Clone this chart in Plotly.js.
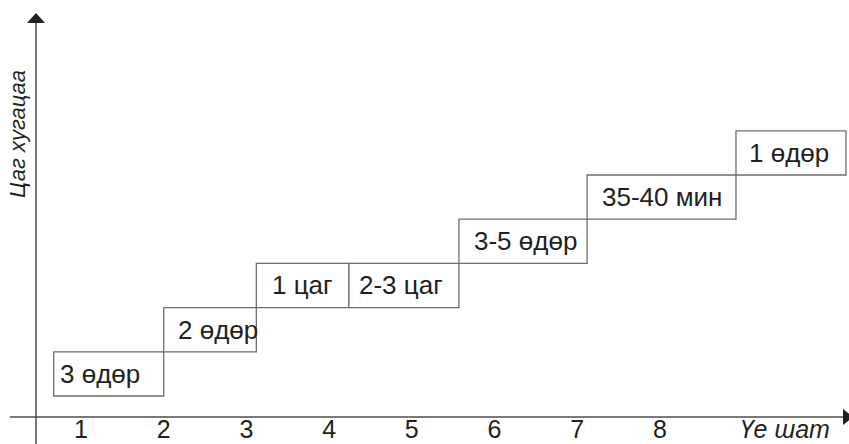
<!DOCTYPE html>
<html>
<head>
<meta charset="utf-8">
<script src="https://cdn.plot.ly/plotly-3.0.1.min.js"></script>
<style>html,body{margin:0;padding:0;background:#fff;}#chart{width:849px;height:444px;}</style>
</head>
<body>
<div id="chart"></div>
<script>
// ---- data ----
var stageTicks = [1, 2, 3, 4, 5, 6, 7, 8];
var stageTickText = ["1", "2", "3", "4", "5", "6", "7", "8"];
var stepLabels = ["3 өдөр", "2 өдөр", "1 цаг", "2-3 цаг", "3-5 өдөр", "35-40 мин", "1 өдөр"];
var stepStart = [0.67, 2.0, 3.12, 4.24, 5.57, 7.12, 8.92];
var stepEnd   = [2.0, 3.12, 4.24, 5.57, 7.12, 8.92, 10.25];
var stepLevel = [0, 1, 2, 2, 3, 4, 5];
var xAxisTitle = "Үе шат";
var yAxisTitle = "Цаг хугацаа";

// ---- layout helpers (styling only) ----
var W = 849, H = 444;
var xRange = [0.0206, 10.2866];
var yRange = [-1.086, 8.959];
function PX(px) { return px / W; }
function PY(py) { return (H - py) / H; }
var labelShift = [-9, 8, 0, -3, 2, 0, -2];

var ink = "#231f20";
var boxLine = "#6d6e71";
var axisLine = "#4d4d4f";
var font = "Liberation Sans, Arial, sans-serif";

var centers = stepStart.map(function (s, i) { return (s + stepEnd[i]) / 2; });
var widths = stepStart.map(function (s, i) { return stepEnd[i] - s; });
var heights = stepLevel.map(function () { return 1; });

var boxes = {
  type: "bar",
  x: centers,
  y: heights,
  base: stepLevel,
  width: widths,
  marker: { color: "#ffffff", line: { color: boxLine, width: 1.3 } },
  hoverinfo: "skip",
  showlegend: false
};

var labelAnns = stepLabels.map(function (t, i) {
  return {
    xref: "x", yref: "y", x: centers[i], y: stepLevel[i] + 0.5,
    text: t, showarrow: false, xanchor: "center", yanchor: "middle",
    xshift: labelShift[i],
    font: { family: font, size: 26, color: ink }
  };
});

var xAxisY = 417, yAxisX = 36;

var layout = {
  width: W, height: H,
  margin: { l: 0, r: 0, t: 0, b: 0, pad: 0 },
  paper_bgcolor: "#ffffff",
  plot_bgcolor: "#ffffff",
  showlegend: false,
  xaxis: {
    range: xRange,
    showgrid: false, zeroline: false, showline: false,
    tickmode: "array",
    tickvals: stageTicks.concat([9.51]),
    ticktext: stageTickText.concat(["<i>" + xAxisTitle + "</i>"]),
    ticks: "", ticklen: 0,
    tickfont: { family: font, size: 25, color: ink },
    anchor: "free",
    position: PY(xAxisY - 5),
    fixedrange: true
  },
  yaxis: {
    range: yRange,
    visible: false,
    fixedrange: true
  },
  shapes: [
    { type: "line", xref: "paper", yref: "paper", x0: PX(10), x1: PX(845), y0: PY(xAxisY), y1: PY(xAxisY), line: { color: axisLine, width: 1.5 } },
    { type: "line", xref: "paper", yref: "paper", x0: PX(yAxisX), x1: PX(yAxisX), y0: PY(22), y1: PY(444), line: { color: axisLine, width: 1.5 } },
    { type: "path", xref: "paper", yref: "paper",
      path: "M" + PX(yAxisX) + "," + PY(13) + " L" + PX(yAxisX - 9) + "," + PY(23) + " L" + PX(yAxisX + 9) + "," + PY(23) + " Z",
      fillcolor: ink, line: { width: 0 } },
    { type: "path", xref: "paper", yref: "paper",
      path: "M" + PX(853) + "," + PY(xAxisY) + " L" + PX(843) + "," + PY(xAxisY - 8) + " L" + PX(843) + "," + PY(xAxisY + 8) + " Z",
      fillcolor: ink, line: { width: 0 } }
  ],
  annotations: labelAnns.concat([
    { xref: "paper", yref: "paper", x: PX(17), y: PY(134), text: "<i>" + yAxisTitle + "</i>",
      textangle: -90, showarrow: false, xanchor: "center", yanchor: "middle",
      font: { family: font, size: 22, color: ink } }
  ])
};

Plotly.newPlot("chart", [boxes], layout, { staticPlot: true, displayModeBar: false });
</script>
</body>
</html>
